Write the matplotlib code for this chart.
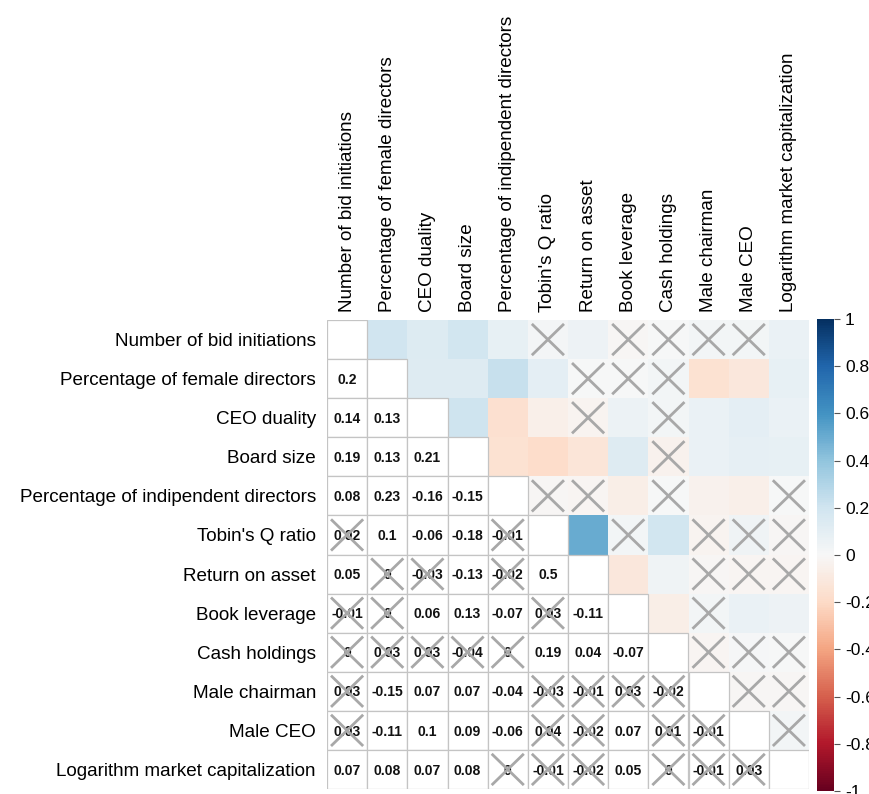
import numpy as np
import matplotlib
matplotlib.use("Agg")
from matplotlib import pyplot as plt

plt.rcParams['font.family'] = ['Liberation Sans', 'DejaVu Sans']

labels = ['Number of bid initiations',
          'Percentage of female directors',
          'CEO duality',
          'Board size',
          'Percentage of indipendent directors',
          "Tobin's Q ratio",
          'Return on asset',
          'Book leverage',
          'Cash holdings',
          'Male chairman',
          'Male CEO',
          'Logarithm market capitalization']

# lower triangle of the correlation matrix, row by row
lower = [
    [],
    [0.2],
    [0.14, 0.13],
    [0.19, 0.13, 0.21],
    [0.08, 0.23, -0.16, -0.15],
    [0.02, 0.1, -0.06, -0.18, -0.01],
    [0.05, 0.0, -0.03, -0.13, -0.02, 0.5],
    [-0.01, 0.0, 0.06, 0.13, -0.07, 0.03, -0.11],
    [0.0, 0.03, 0.03, -0.04, 0.0, 0.19, 0.04, -0.07],
    [0.03, -0.15, 0.07, 0.07, -0.04, -0.03, -0.01, 0.03, -0.02],
    [0.03, -0.11, 0.1, 0.09, -0.06, 0.04, -0.02, 0.07, 0.01, -0.01],
    [0.07, 0.08, 0.07, 0.08, 0.0, -0.01, -0.02, 0.05, 0.0, -0.01, 0.03],
]

# pairs (row, col) that are not significant -> crossed out
insig = [(5, 0), (5, 4),
         (6, 1), (6, 2), (6, 4),
         (7, 0), (7, 1), (7, 5),
         (8, 0), (8, 1), (8, 2), (8, 3), (8, 4),
         (9, 0), (9, 5), (9, 6), (9, 7), (9, 8),
         (10, 0), (10, 5), (10, 6), (10, 8), (10, 9),
         (11, 4), (11, 5), (11, 6), (11, 8), (11, 9), (11, 10)]

n = len(labels)
corr = np.eye(n)
for i, row in enumerate(lower):
    for j, v in enumerate(row):
        corr[i, j] = v
        corr[j, i] = v

fig = plt.figure(figsize=(8.69, 7.94), dpi=100)
ax = fig.add_axes([327/869, 1-789/794, 482/869, 469/794])

# upper triangle: colour squares
upper = np.ma.masked_array(corr, mask=~np.triu(np.ones((n, n), bool), k=1))
mesh = ax.pcolormesh(np.arange(n+1), np.arange(n+1), upper, cmap='RdBu',
                     vmin=-1, vmax=1, edgecolors='none')

# lower triangle + diagonal: white boxes with numbers
grid_col = '#c4c4c4'
for i in range(n):
    for j in range(i+1):
        ax.add_patch(plt.Rectangle((j, i), 1, 1, facecolor='white',
                                   edgecolor=grid_col, lw=0.9, zorder=2))
        if i != j:
            v = round(corr[i, j], 2)
            txt = '0' if v == 0 else '{:g}'.format(v)
            ax.text(j+0.5, i+0.53, txt, ha='center', va='center',
                    fontsize=10, fontweight='bold', color='#111111', zorder=3)

# crosses on insignificant cells (both triangles)
d = 0.4
for (i, j) in insig:
    for (r, c) in ((i, j), (j, i)):
        cx, cy = c+0.5, r+0.5
        ax.plot([cx-d, cx+d], [cy-d, cy+d], color='#a8a8a8', lw=2, zorder=4,
                solid_capstyle='butt')
        ax.plot([cx-d, cx+d], [cy+d, cy-d], color='#a8a8a8', lw=2, zorder=4,
                solid_capstyle='butt')

ax.set_xlim(0, n)
ax.set_ylim(n, 0)
ax.set_yticks(np.arange(n)+0.5)
ax.set_yticklabels(labels, fontsize=13.6)
ax.set_xticks(np.arange(n)+0.5)
ax.set_xticklabels(labels, fontsize=13.6, rotation=90)
ax.xaxis.tick_top()
ax.tick_params(axis='both', length=0)
ax.tick_params(axis='y', pad=8)
ax.tick_params(axis='x', pad=6)
for s in ax.spines.values():
    s.set_visible(False)

# colour legend
cax = fig.add_axes([817/869, 1-791/794, 17/869, 472/794])
cb = fig.colorbar(mesh, cax=cax, ticks=np.linspace(-1, 1, 11))
cb.ax.set_yticklabels(['{:g}'.format(round(t, 1)) if abs(t) > 1e-9 else '0'
                       for t in np.linspace(-1, 1, 11)])
cb.outline.set_visible(False)
cb.ax.tick_params(length=4, width=0.8, color='#555555', labelsize=12.5, pad=4)

fig.savefig('out.png', dpi=100)
